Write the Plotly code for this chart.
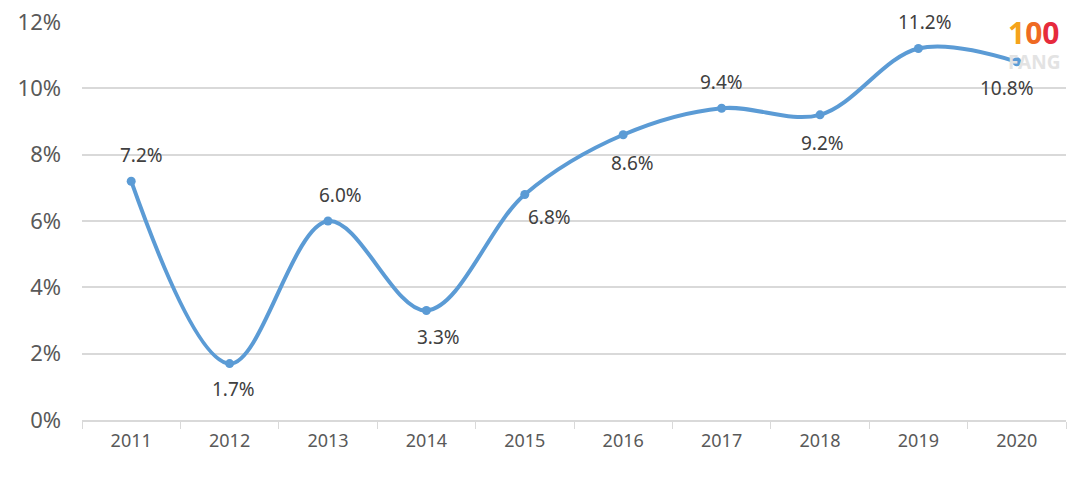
import plotly.graph_objects as go

years = ["2011", "2012", "2013", "2014", "2015", "2016", "2017", "2018", "2019", "2020"]
rates = [7.2, 1.7, 6.0, 3.3, 6.8, 8.6, 9.4, 9.2, 11.2, 10.8]
label_dy = [26, -25, 26, -26, -23, -28, 26, -28, 27, -26]
label_dx = [10, 4, 12, 12, 25, 9, 0, 2, 7, -10]
y_ticks = [0, 2, 4, 6, 8, 10, 12]

FONT = "Noto Sans"

fig = go.Figure()
fig.add_trace(go.Scatter(
    x=years, y=rates, mode="lines+markers",
    line=dict(color="#5B9BD5", width=4, shape="spline", smoothing=1.0),
    marker=dict(color="#5B9BD5", size=9),
    cliponaxis=False,
    showlegend=False,
))

for i, (v, dy, dx) in enumerate(zip(rates, label_dy, label_dx)):
    fig.add_annotation(x=i, y=v, text=f"{v:.1f}%", showarrow=False,
                       xshift=dx, yshift=dy, xanchor="center", yanchor="middle",
                       font=dict(size=19, color="#404040", family=FONT))

fig.update_layout(
    width=1080, height=490,
    margin=dict(l=82, r=14, t=22, b=70),
    paper_bgcolor="white", plot_bgcolor="white",
    font=dict(family=FONT, color="#595959"),
    xaxis=dict(
        type="category", tickson="boundaries", ticks="outside", ticklen=7,
        range=[-0.5, len(years) - 0.5],
        tickcolor="#d9d9d9", showline=True, linecolor="#d9d9d9", linewidth=1.5,
        showgrid=False, tickfont=dict(size=18, color="#595959", family=FONT),
        ticklabelstandoff=4, automargin=False,
    ),
    yaxis=dict(
        range=[0, 12], tickvals=y_ticks, ticktext=[f"{v}%" for v in y_ticks],
        showgrid=True, gridcolor="#d9d9d9", gridwidth=1.5, zeroline=False,
        tickfont=dict(size=22, color="#595959", family=FONT), ticklabelstandoff=20,
        automargin=False,
    ),
)

logo = ("<b><span style='color:#F5A31B'>1</span>"
        "<span style='color:#EF6A22'>0</span>"
        "<span style='color:#E62A3C'>0</span></b>")
fig.add_annotation(x=0.9675, y=0.973, xref="paper", yref="paper", xanchor="center", yanchor="middle",
                   text=logo, showarrow=False, borderpad=0,
                   font=dict(size=30, family=FONT))
fig.add_annotation(x=0.9675, y=0.9, xref="paper", yref="paper", xanchor="center", yanchor="middle",
                   text="<b>FANG</b>", showarrow=False, borderpad=0,
                   font=dict(size=19, color="#E3E3E3", family=FONT))

fig.write_html("out.html")
